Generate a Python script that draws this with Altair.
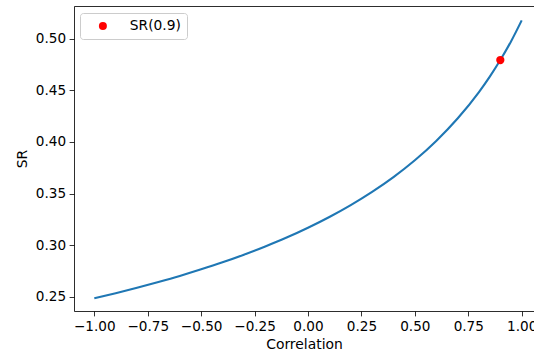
import altair as alt
import pandas as pd

# Sharpe ratio of the combined position as a function of correlation
correlation = [-1.0, -0.9, -0.8, -0.7, -0.6, -0.5, -0.4, -0.3, -0.2, -0.1,
               0.0, 0.1, 0.2, 0.3, 0.4, 0.5, 0.6, 0.7, 0.8, 0.85, 0.9, 0.95, 1.0]
sr = [0.2487, 0.2536, 0.2588, 0.2644, 0.2703, 0.2767, 0.2835, 0.2909, 0.2989, 0.3075,
      0.3170, 0.3274, 0.3389, 0.3517, 0.3660, 0.3823, 0.4010, 0.4227, 0.4483, 0.4630,
      0.4793, 0.4973, 0.5177]

# highlighted point
point_rho = [0.9]
point_sr = [0.4793]
point_label = ["SR(0.9)"]

x_ticks = [-1.0, -0.75, -0.5, -0.25, 0.0, 0.25, 0.5, 0.75, 1.0]
y_ticks = [0.25, 0.30, 0.35, 0.40, 0.45, 0.50]

curve = pd.DataFrame({"rho": correlation, "sr": sr})
pts = pd.DataFrame({"rho": point_rho, "sr": point_sr, "label": point_label})

FONT = "DejaVu Sans"
x_scale = alt.Scale(domain=[-1.095, 1.0576], nice=False, zero=False)
y_scale = alt.Scale(domain=[0.2364, 0.5316], nice=False, zero=False)

axis_common = dict(
    grid=False, domainColor="#000", domainWidth=0.8, tickColor="#000",
    tickWidth=0.8, tickSize=4.9, labelColor="#000", titleColor="#000",
    labelFont=FONT, titleFont=FONT, labelFontSize=13.6, titleFontSize=13.9,
    titleFontWeight="normal", format=".2f",
)

line = alt.Chart(curve).mark_line(color="#1f77b4", strokeWidth=2.1, interpolate="monotone").encode(
    x=alt.X("rho:Q", scale=x_scale,
            axis=alt.Axis(values=x_ticks, title="Correlation", labelPadding=3.5,
                          titlePadding=4, **axis_common)),
    y=alt.Y("sr:Q", scale=y_scale,
            axis=alt.Axis(values=y_ticks, title="SR", labelPadding=3.5,
                          titlePadding=6, **axis_common)),
)

# top spine
top = alt.Chart(curve).mark_line(opacity=0).encode(
    x=alt.X("rho:Q", scale=x_scale,
            axis=alt.Axis(orient="top", labels=False, ticks=False, title=None,
                          grid=False, domainColor="#000", domainWidth=0.8)),
    y=alt.Y("sr:Q", scale=y_scale),
)

dot = alt.Chart(pts).mark_point(filled=True, size=68, opacity=1, shape="circle").encode(
    x=alt.X("rho:Q", scale=x_scale, axis=None),
    y=alt.Y("sr:Q", scale=y_scale),
    color=alt.Color("label:N", scale=alt.Scale(range=["#ff0000"]),
                    legend=alt.Legend(title=None, orient="none", legendX=6, legendY=7,
                                      padding=6, symbolOffset=10, labelOffset=20,
                                      symbolSize=64, symbolType="circle",
                                      strokeColor="#cccccc", fillColor="#ffffff",
                                      cornerRadius=3, labelFont=FONT,
                                      labelFontSize=13.8, labelColor="#000")),
)

chart = (
    alt.layer(line, top, dot)
    .resolve_axis(x="independent")
    .properties(width=460, height=305,
                padding={"left": 74, "top": 6, "right": 0, "bottom": 45},
                autosize=alt.AutoSizeParams(type="none"))
    .configure_view(stroke=None)
    .configure(background="white")
)

chart.save("out.html", embed_options={"renderer": "svg", "actions": False})
